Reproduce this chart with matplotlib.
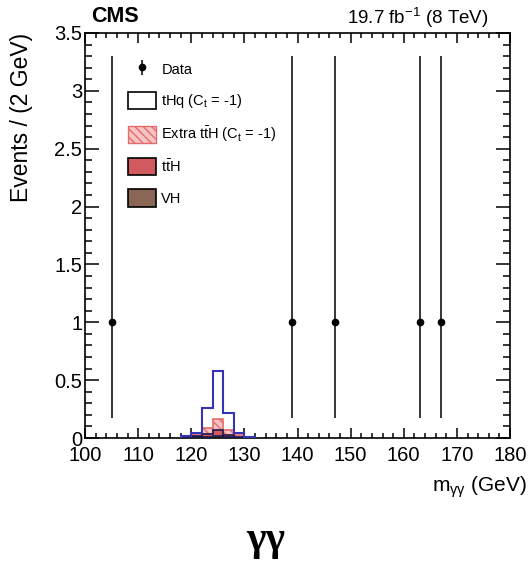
import numpy as np
import matplotlib
matplotlib.use("Agg")
import matplotlib.pyplot as plt
from matplotlib.patches import Patch
from matplotlib.ticker import MultipleLocator

plt.rcParams['font.family'] = ['Liberation Sans', 'DejaVu Sans']
plt.rcParams['mathtext.fontset'] = 'custom'
plt.rcParams['mathtext.rm'] = 'Liberation Sans'
plt.rcParams['mathtext.it'] = 'Liberation Sans'
plt.rcParams['mathtext.bf'] = 'Liberation Sans:bold'
plt.rcParams['hatch.linewidth'] = 1.0

# Data
data_x = [105, 139, 147, 163, 167]
data_y = [1, 1, 1, 1, 1]
data_err_lo = [0.827, 0.827, 0.827, 0.827, 0.827]
data_err_hi = [2.30, 2.30, 2.30, 2.30, 2.30]

# Simulated stacks (bins of 2 GeV)
bin_edges = [118, 120, 122, 124, 126, 128, 130, 132]
vh = [0.002, 0.005, 0.010, 0.015, 0.008, 0.004, 0.001]
tth = [0.003, 0.012, 0.025, 0.050, 0.020, 0.006, 0.002]
extra_tth = [0.005, 0.015, 0.055, 0.100, 0.042, 0.012, 0.003]
thq = [0.010, 0.013, 0.170, 0.410, 0.150, 0.023, 0.006]

fig = plt.figure(figsize=(5.30, 5.69), dpi=100)
ax = fig.add_axes([85/530, 1 - 438/569, 425/530, 405/569])

c_vh = '#8a6656'
c_tth = '#d25a5e'
c_extra = '#e36b6b'
c_extra_fill = '#f6c4c4'
c_thq = '#3434b4'

b0 = np.zeros(len(vh))
b1 = b0 + np.array(vh)
b2 = b1 + np.array(tth)
b3 = b2 + np.array(extra_tth)
b4 = b3 + np.array(thq)

ax.stairs(b1, bin_edges, baseline=b0, fill=True, facecolor=c_vh, edgecolor='none', zorder=2)
ax.stairs(b2, bin_edges, baseline=b1, fill=True, facecolor=c_tth, edgecolor='none', zorder=2)
ax.stairs(b2, bin_edges, baseline=b1, fill=False, edgecolor='#1a1a50', linewidth=1.2, zorder=3)
ax.stairs(b3, bin_edges, baseline=b2, fill=True, facecolor=c_extra_fill, edgecolor=c_extra,
          hatch='\\\\\\\\', linewidth=0.0, zorder=2)
ax.stairs(b3, bin_edges, baseline=b2, fill=False, edgecolor=c_extra, linewidth=1.2, zorder=2)
ax.stairs(b4, bin_edges, baseline=0, fill=False, edgecolor=c_thq, linewidth=1.5, zorder=4)

eb = ax.errorbar(data_x, data_y, yerr=[data_err_lo, data_err_hi], fmt='o', color='black',
                 markersize=4.5, elinewidth=1.1, capsize=0, zorder=5)

ax.set_xlim(100, 180)
ax.set_ylim(0, 3.5)
ax.xaxis.set_major_locator(MultipleLocator(10))
ax.xaxis.set_minor_locator(MultipleLocator(2))
ax.yaxis.set_minor_locator(MultipleLocator(0.1))
ax.set_yticks([0, 0.5, 1, 1.5, 2, 2.5, 3, 3.5])
ax.set_yticklabels(['0', '0.5', '1', '1.5', '2', '2.5', '3', '3.5'])
ax.tick_params(which='both', direction='in', top=True, right=True, labelsize=14.5, width=1.1)
ax.tick_params(axis='x', which='major', length=7, pad=6)
ax.tick_params(axis='x', which='minor', length=3.5)
ax.tick_params(axis='y', which='major', length=10, pad=2)
ax.tick_params(axis='y', which='minor', length=5)
for s in ax.spines.values():
    s.set_linewidth(1.2)

ax.set_ylabel('Events / (2 GeV)', fontsize=16.5, loc='top')
ax.yaxis.set_label_coords(-0.122, 1.0)
fig.text(527/530, 1 - 487/569, r'm$_{\gamma\gamma}$ (GeV)', fontsize=15, ha='right', va='center')

fig.text(91/530, 1 - 17/569, 'CMS', fontsize=15.5, fontweight='bold', va='center', ha='left')
fig.text(489/530, 1 - 18/569, r'19.7 fb$^{-1}$ (8 TeV)', fontsize=13.5, va='center', ha='right')

handles = [
    eb,
    Patch(facecolor='white', edgecolor='black', linewidth=1.2),
    Patch(facecolor=c_extra_fill, edgecolor=c_extra, hatch='\\\\\\\\', linewidth=1.0),
    Patch(facecolor=c_tth, edgecolor='black', linewidth=1.2),
    Patch(facecolor=c_vh, edgecolor='black', linewidth=1.2),
]
labels = ['Data', r'tHq (C$_{\rm t}$ = -1)', r'Extra t$\bar{\rm t}$H (C$_{\rm t}$ = -1)',
          r't$\bar{\rm t}$H', 'VH']
ax.legend(handles, labels, loc='upper left', bbox_to_anchor=(0.087, 0.946), frameon=False,
          borderaxespad=0, fontsize=10.5, handlelength=1.9, handleheight=1.45,
          labelspacing=0.95, handletextpad=0.4)

fig.text(266/530, 1 - 540/569, 'γγ', fontsize=30, fontweight='bold', ha='center', va='center',
         family='Liberation Serif')

fig.savefig('out.png', dpi=100)
